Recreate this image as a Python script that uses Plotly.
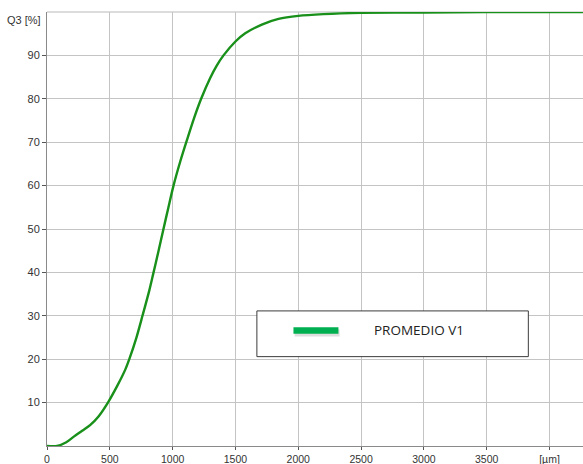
import plotly.graph_objects as go

# Cumulative distribution Q3 [%] vs particle size [µm]
size_um = [0, 80, 150, 211, 280, 343, 410, 485, 560, 623, 655, 710, 760, 814,
           845, 885, 924, 965, 1007, 1060, 1114, 1170, 1227, 1299, 1350, 1405,
           1500, 1578, 1710, 1843, 2000, 2200, 2500, 3000, 3500, 4000, 4266]
q3_pct = [0, 0, 0.8, 2.1, 3.5, 4.8, 6.8, 10.0, 13.9, 17.6, 20.0, 24.8, 30.0, 35.8,
          39.6, 44.6, 49.6, 54.8, 60.0, 65.5, 70.5, 75.5, 80.0, 84.8, 87.6, 90.0,
          93.2, 95.1, 97.1, 98.4, 99.1, 99.5, 99.8, 99.9, 100, 100, 100]

x_tickvals = [0, 500, 1000, 1500, 2000, 2500, 3000, 3500, 4000]
x_ticktext = ["0", "500", "1000", "1500", "2000", "2500", "3000", "3500", "[µm]"]
y_tickvals = [10, 20, 30, 40, 50, 60, 70, 80, 90]
y_ticktext = ["10", "20", "30", "40", "50", "60", "70", "80", "90"]
series_name = "PROMEDIO V1"

W, H = 583, 464
L, T, B = 46.7, 12.3, 18.0
plot_w = W - L
plot_h = H - T - B

def px(xp):
    return (xp - L) / plot_w

def py(yp):
    return (H - B - yp) / plot_h

fig = go.Figure()
fig.add_trace(go.Scatter(
    x=size_um, y=q3_pct, mode="lines",
    line=dict(color="#18901a", width=2.4, shape="spline", smoothing=0.8),
    showlegend=False, hoverinfo="skip", cliponaxis=True,
))

axis_font = dict(family="Liberation Sans, Arial, sans-serif", size=11, color="#333333")
xaxis_font = dict(family="Liberation Sans, Arial, sans-serif", size=10.5, color="#333333")

fig.update_layout(
    width=W, height=H,
    margin=dict(l=L, r=0, t=T, b=B, pad=0),
    paper_bgcolor="white", plot_bgcolor="white",
    xaxis=dict(
        range=[0, (W - L) / 0.1257], tickvals=x_tickvals, ticktext=x_ticktext,
        showgrid=True, gridcolor="#c4c4c4", gridwidth=1,
        showline=True, linecolor="#8a8a8a", linewidth=1,
        ticks="outside", ticklen=3, tickcolor="#555555",
        tickfont=xaxis_font, zeroline=False, fixedrange=True, automargin=False,
    ),
    yaxis=dict(
        range=[0, 100], tickvals=y_tickvals, ticktext=y_ticktext,
        showgrid=True, gridcolor="#c4c4c4", gridwidth=1,
        showline=True, linecolor="#8a8a8a", linewidth=1,
        ticks="outside", ticklen=4, tickcolor="#555555",
        tickfont=axis_font, zeroline=False, fixedrange=True, automargin=False,
    ),
    shapes=[
        dict(type="line", xref="paper", yref="paper", x0=0, x1=1, y0=1, y1=1,
             line=dict(color="#d0d0d0", width=1.5), layer="below"),
        dict(type="rect", xref="paper", yref="paper",
             x0=px(256.7), x1=px(528.3), y0=py(356.7), y1=py(311),
             fillcolor="white", line=dict(color="#3c3c3c", width=1)),
        dict(type="line", xref="paper", yref="paper",
             x0=px(294.5), x1=px(339.5), y0=py(333.2), y1=py(333.2),
             line=dict(color="rgba(0,0,0,0.13)", width=7)),
        dict(type="line", xref="paper", yref="paper",
             x0=px(293.3), x1=px(338.3), y0=py(330.7), y1=py(330.7),
             line=dict(color="#00b050", width=6.5)),
    ],
    annotations=[
        dict(text=series_name, xref="paper", yref="paper", x=px(371.7), y=py(330.5),
             xanchor="left", yanchor="middle", showarrow=False,
             font=dict(family="Open Sans, Carlito, sans-serif", size=13.5, color="#222222")),
        dict(text="Q3 [%]", xref="paper", yref="paper", x=0, y=py(20),
             xanchor="right", yanchor="middle", xshift=-4, showarrow=False,
             font=axis_font),
    ],
)

fig.write_html(
    "out.html",
    config={"displayModeBar": False},
    post_script="document.body.style.margin='0';document.body.style.overflow='hidden';"
                "document.documentElement.style.overflow='hidden';",
)
